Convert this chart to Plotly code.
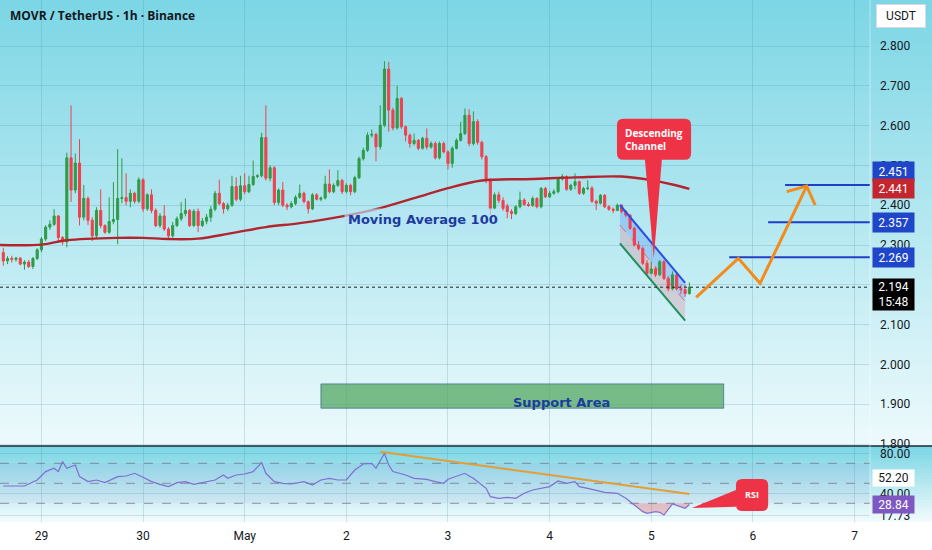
import plotly.graph_objects as go
from plotly.subplots import make_subplots

# ---------------- data ----------------
day_ticks = [9, 33, 57, 81, 105, 129, 153, 177, 201]
day_labels = ["29", "30", "May", "2", "3", "4", "5", "6", "7"]

opens = [2.281, 2.260, 2.266, 2.264, 2.267, 2.252, 2.257, 2.246, 2.266, 2.288,
         2.315, 2.345, 2.352, 2.373, 2.319, 2.308, 2.519, 2.438, 2.506, 2.370,
         2.417, 2.362, 2.323, 2.387, 2.349, 2.332, 2.359, 2.364, 2.417, 2.419,
         2.410, 2.430, 2.410, 2.464, 2.391, 2.426, 2.387, 2.349, 2.373, 2.340,
         2.323, 2.349, 2.366, 2.379, 2.387, 2.349, 2.385, 2.349, 2.360, 2.370,
         2.390, 2.430, 2.404, 2.391, 2.400, 2.447, 2.415, 2.449, 2.434, 2.452,
         2.472, 2.474, 2.570, 2.468, 2.494, 2.407, 2.438, 2.400, 2.396, 2.404,
         2.420, 2.430, 2.409, 2.391, 2.426, 2.415, 2.418, 2.453, 2.434, 2.450,
         2.462, 2.434, 2.450, 2.434, 2.469, 2.517, 2.538, 2.576, 2.578, 2.547,
         2.601, 2.742, 2.639, 2.594, 2.668, 2.597, 2.576, 2.555, 2.563, 2.543,
         2.568, 2.546, 2.555, 2.519, 2.555, 2.534, 2.505, 2.543, 2.563, 2.580,
         2.626, 2.555, 2.610, 2.558, 2.522, 2.463, 2.392, 2.426, 2.412, 2.398,
         2.384, 2.379, 2.396, 2.413, 2.402, 2.399, 2.417, 2.396, 2.442, 2.421,
         2.430, 2.434, 2.466, 2.472, 2.440, 2.450, 2.459, 2.430, 2.442, 2.443,
         2.410, 2.405, 2.425, 2.396, 2.390, 2.387, 2.400, 2.384, 2.375, 2.342,
         2.300, 2.291, 2.254, 2.229, 2.240, 2.225, 2.258, 2.216, 2.190, 2.225,
         2.190, 2.188, 2.178]
highs = [2.293, 2.272, 2.273, 2.270, 2.270, 2.262, 2.262, 2.270, 2.292, 2.320,
         2.350, 2.362, 2.390, 2.375, 2.322, 2.532, 2.651, 2.530, 2.566, 2.451,
         2.422, 2.370, 2.395, 2.440, 2.352, 2.420, 2.458, 2.541, 2.518, 2.480,
         2.440, 2.434, 2.470, 2.468, 2.430, 2.440, 2.392, 2.380, 2.400, 2.345,
         2.358, 2.372, 2.408, 2.417, 2.390, 2.390, 2.392, 2.368, 2.378, 2.398,
         2.436, 2.464, 2.408, 2.406, 2.474, 2.470, 2.474, 2.480, 2.474, 2.512,
         2.478, 2.582, 2.651, 2.500, 2.498, 2.442, 2.458, 2.405, 2.410, 2.425,
         2.452, 2.434, 2.412, 2.430, 2.430, 2.422, 2.474, 2.490, 2.455, 2.488,
         2.466, 2.455, 2.454, 2.474, 2.522, 2.545, 2.583, 2.590, 2.582, 2.651,
         2.762, 2.760, 2.645, 2.700, 2.672, 2.600, 2.580, 2.580, 2.566, 2.572,
         2.593, 2.560, 2.560, 2.560, 2.560, 2.538, 2.548, 2.568, 2.610, 2.643,
         2.641, 2.636, 2.616, 2.562, 2.526, 2.468, 2.432, 2.434, 2.420, 2.404,
         2.390, 2.400, 2.434, 2.418, 2.408, 2.422, 2.420, 2.446, 2.446, 2.436,
         2.440, 2.470, 2.478, 2.475, 2.454, 2.480, 2.462, 2.446, 2.463, 2.448,
         2.414, 2.428, 2.428, 2.400, 2.394, 2.404, 2.402, 2.388, 2.378, 2.346,
         2.310, 2.296, 2.262, 2.258, 2.245, 2.262, 2.262, 2.222, 2.234, 2.230,
         2.200, 2.200, 2.206]
lows = [2.248, 2.252, 2.256, 2.258, 2.249, 2.238, 2.242, 2.240, 2.262, 2.282,
        2.310, 2.338, 2.348, 2.306, 2.300, 2.294, 2.408, 2.430, 2.349, 2.362,
        2.350, 2.310, 2.318, 2.342, 2.328, 2.328, 2.352, 2.302, 2.405, 2.400,
        2.395, 2.404, 2.405, 2.383, 2.386, 2.380, 2.345, 2.343, 2.335, 2.318,
        2.318, 2.345, 2.360, 2.372, 2.345, 2.345, 2.332, 2.345, 2.352, 2.358,
        2.385, 2.400, 2.379, 2.386, 2.396, 2.410, 2.410, 2.428, 2.430, 2.448,
        2.468, 2.470, 2.462, 2.460, 2.400, 2.400, 2.395, 2.388, 2.392, 2.400,
        2.416, 2.405, 2.379, 2.388, 2.412, 2.410, 2.414, 2.430, 2.430, 2.446,
        2.428, 2.430, 2.425, 2.430, 2.466, 2.512, 2.534, 2.570, 2.510, 2.540,
        2.596, 2.585, 2.588, 2.590, 2.592, 2.560, 2.545, 2.550, 2.538, 2.540,
        2.540, 2.542, 2.515, 2.515, 2.530, 2.490, 2.494, 2.540, 2.560, 2.576,
        2.548, 2.550, 2.552, 2.515, 2.455, 2.375, 2.388, 2.405, 2.386, 2.367,
        2.365, 2.375, 2.392, 2.398, 2.396, 2.396, 2.392, 2.392, 2.418, 2.418,
        2.426, 2.430, 2.462, 2.436, 2.436, 2.440, 2.426, 2.426, 2.438, 2.406,
        2.388, 2.402, 2.393, 2.386, 2.380, 2.385, 2.380, 2.370, 2.338, 2.296,
        2.286, 2.250, 2.224, 2.226, 2.220, 2.222, 2.212, 2.184, 2.186, 2.186,
        2.176, 2.170, 2.175]
closes = [2.260, 2.266, 2.264, 2.267, 2.252, 2.257, 2.246, 2.266, 2.288, 2.315,
          2.345, 2.352, 2.373, 2.319, 2.308, 2.519, 2.438, 2.506, 2.370, 2.417,
          2.362, 2.323, 2.387, 2.349, 2.332, 2.359, 2.364, 2.417, 2.419, 2.410,
          2.430, 2.410, 2.464, 2.391, 2.426, 2.387, 2.349, 2.373, 2.340, 2.323,
          2.349, 2.366, 2.379, 2.387, 2.349, 2.385, 2.349, 2.360, 2.370, 2.390,
          2.430, 2.404, 2.391, 2.400, 2.447, 2.415, 2.449, 2.434, 2.452, 2.472,
          2.474, 2.570, 2.468, 2.494, 2.407, 2.438, 2.400, 2.396, 2.404, 2.420,
          2.430, 2.409, 2.391, 2.426, 2.415, 2.418, 2.453, 2.434, 2.450, 2.462,
          2.434, 2.450, 2.434, 2.469, 2.517, 2.538, 2.576, 2.578, 2.547, 2.601,
          2.742, 2.639, 2.594, 2.668, 2.597, 2.576, 2.555, 2.563, 2.543, 2.568,
          2.546, 2.555, 2.519, 2.555, 2.534, 2.505, 2.543, 2.563, 2.580, 2.626,
          2.555, 2.610, 2.558, 2.522, 2.463, 2.392, 2.426, 2.412, 2.392, 2.384,
          2.379, 2.396, 2.413, 2.402, 2.399, 2.417, 2.396, 2.442, 2.421, 2.430,
          2.434, 2.466, 2.472, 2.440, 2.450, 2.459, 2.430, 2.442, 2.443, 2.410,
          2.405, 2.425, 2.396, 2.390, 2.387, 2.400, 2.384, 2.375, 2.342, 2.300,
          2.291, 2.254, 2.229, 2.240, 2.225, 2.258, 2.216, 2.190, 2.225, 2.190,
          2.188, 2.178, 2.194]

ma_idx = [-1, 9, 15, 27, 33, 39, 46, 54, 62, 70, 80, 88, 98, 105, 113, 125, 135, 146, 153, 158, 162]
ma_val = [2.300, 2.301, 2.312, 2.318, 2.318, 2.315, 2.316, 2.330, 2.345, 2.355, 2.372,
          2.390, 2.421, 2.443, 2.462, 2.466, 2.470, 2.472, 2.463, 2.452, 2.441]

rsi_idx = [0, 5, 8, 10, 12, 13, 14, 15, 17, 18, 20, 22, 24, 27, 29, 31, 33, 35, 37, 39,
           41, 43, 45, 48, 50, 52, 53, 55, 57, 59, 61, 62, 64, 66, 68, 71, 73, 75, 77, 79,
           81, 83, 85, 87, 88, 90, 91, 92, 95, 97, 100, 102, 104, 105, 107, 109, 110, 111, 114, 115,
           117, 119, 121, 123, 125, 127, 129, 131, 133, 135, 136, 138, 140, 142, 145, 147, 149, 151, 152, 154,
           155, 156, 158, 160, 161, 162]
rsi_val = [47.3, 47.3, 53.3, 61.7, 65.0, 61.7, 71.7, 65.0, 68.3, 56.7, 51.7, 53.3, 50.7, 56.7, 57.3, 60.0, 56.0, 51.7, 49.0, 46.7,
           50.7, 51.7, 49.0, 51.7, 53.3, 58.3, 55.0, 58.3, 59.3, 61.7, 70.7, 60.0, 51.7, 50.0, 49.3, 51.7, 48.3, 53.3, 55.0, 53.3,
           53.3, 63.3, 69.3, 70.0, 65.0, 80.0, 68.3, 61.7, 58.3, 55.0, 54.0, 51.7, 50.0, 54.0, 56.7, 60.0, 57.3, 55.0, 45.0, 36.7,
           35.0, 36.0, 35.0, 40.0, 43.3, 45.0, 46.7, 52.3, 50.0, 51.7, 46.7, 45.0, 43.3, 41.0, 40.0, 35.0, 28.3, 21.7, 20.0, 21.7,
           21.0, 18.3, 29.3, 26.7, 25.0, 28.84]

price_ticks = [1.8, 1.9, 2.0, 2.1, 2.2, 2.3, 2.4, 2.5, 2.6, 2.7, 2.8]
rsi_ticks = [80, 40, 17.73]

# drawings (index / price units)
support_x = [75.0, 170.1]
support_y = [1.890, 1.951]
ch_x = [145.6, 161.0]
ch_upper = [2.4005, 2.205]
ch_mid = [2.350, 2.158]
ch_lower = [2.304, 2.110]
proj_x = [163.6, 173.55, 178.7, 189.7]
proj_y = [2.1686, 2.2666, 2.2038, 2.4482]
arrow_x = [185.0, 191.7]
arrow_y = [2.434, 2.4005]
level_vals = [2.451, 2.357, 2.269]
level_start = [184.6, 180.6, 171.4]
last_price = 2.194
ma_last = 2.441
rsi_last = 28.84
rsi_ma_last = 52.20
rsi_tl_x = [89, 162]
rsi_tl_y = [81.6, 39.3]
dc_box = [144.9, 162.4, 2.514, 2.617]
dc_ptr = [151.5, 155.5, 153.6, 2.267]
rsi_box = [173.0, 180.6, 22.3, 54.3]
rsi_ptr = [26.6, 43.3, 162.6, 25.3]

# ---------------- style ----------------
W, H = 932, 550
X0, X1 = -0.78, 204.65
PLOT_R = 870
GREEN = "#2f9b48"
RED = "#f0404e"
GRID = "rgba(70,140,160,0.22)"
BLUE = "#1f3fc6"
ORANGE = "#f38b1c"
FONT = "Roboto"

fig = make_subplots(rows=2, cols=1, shared_xaxes=True, vertical_spacing=0)

idx = list(range(len(closes)))
fig.add_trace(go.Candlestick(
    x=idx, open=opens, high=highs, low=lows, close=closes,
    increasing=dict(line=dict(color=GREEN, width=1), fillcolor=GREEN),
    decreasing=dict(line=dict(color=RED, width=1), fillcolor=RED),
    whiskerwidth=0, hoverinfo="skip"), row=1, col=1)
fig.add_trace(go.Scatter(x=ma_idx, y=ma_val, mode="lines",
                         line=dict(color="#b3242f", width=2.4, shape="spline"),
                         hoverinfo="skip"), row=1, col=1)

# RSI oversold fill
fig.add_trace(go.Scatter(x=rsi_idx, y=[30] * len(rsi_idx), mode="lines",
                         line=dict(width=0, color="rgba(0,0,0,0)"), hoverinfo="skip"), row=2, col=1)
fig.add_trace(go.Scatter(x=rsi_idx, y=[min(v, 30) for v in rsi_val], mode="lines",
                         line=dict(width=0, color="rgba(0,0,0,0)"), fill="tonexty",
                         fillcolor="rgba(242,54,69,0.28)", hoverinfo="skip"), row=2, col=1)
fig.add_trace(go.Scatter(x=rsi_idx, y=rsi_val, mode="lines",
                         line=dict(color="#7e6fd0", width=1.2), hoverinfo="skip"), row=2, col=1)

shapes = []


def grad(top_px, bot_px, c0, c1, step=3):
    y = top_px
    while y < bot_px:
        y2 = min(y + step, bot_px)
        t = (y - top_px) / max(bot_px - top_px, 1)
        col = "rgb(%d,%d,%d)" % tuple(round(a + (b - a) * t) for a, b in zip(c0, c1))
        shapes.append(dict(type="rect", xref="paper", yref="paper", x0=0, x1=1,
                           y0=1 - (y2 + 0.6) / H, y1=1 - y / H, fillcolor=col,
                           line=dict(width=0), layer="below"))
        y = y2


grad(0, 446, (124, 214, 229), (238, 250, 252))
grad(446, 522, (124, 214, 229), (246, 252, 253))

# support area
shapes.append(dict(type="rect", xref="x", yref="y", x0=support_x[0], x1=support_x[1],
                   y0=support_y[0], y1=support_y[1], fillcolor="rgba(78,163,92,0.72)",
                   line=dict(color="rgba(60,100,140,0.7)", width=1)))

# channel
shapes.append(dict(type="path", xref="x", yref="y", layer="below",
                   path=f"M {ch_x[0]},{ch_upper[0]} L {ch_x[1]},{ch_upper[1]} L {ch_x[1]},{ch_mid[1]} L {ch_x[0]},{ch_mid[0]} Z",
                   fillcolor="rgba(70,130,255,0.28)", line=dict(width=0)))
shapes.append(dict(type="path", xref="x", yref="y", layer="below",
                   path=f"M {ch_x[0]},{ch_mid[0]} L {ch_x[1]},{ch_mid[1]} L {ch_x[1]},{ch_lower[1]} L {ch_x[0]},{ch_lower[0]} Z",
                   fillcolor="rgba(242,80,100,0.2)", line=dict(width=0)))
shapes.append(dict(type="line", xref="x", yref="y", x0=ch_x[0], x1=ch_x[1], y0=ch_upper[0], y1=ch_upper[1],
                   line=dict(color="#2a4fe0", width=2)))
shapes.append(dict(type="line", xref="x", yref="y", x0=ch_x[0], x1=ch_x[1], y0=ch_mid[0], y1=ch_mid[1],
                   line=dict(color="rgba(240,64,78,0.7)", width=1, dash="dash")))
shapes.append(dict(type="line", xref="x", yref="y", x0=ch_x[0], x1=ch_x[1], y0=ch_lower[0], y1=ch_lower[1],
                   line=dict(color="#1f8f5a", width=2)))

# target levels
for v, s in zip(level_vals, level_start):
    shapes.append(dict(type="line", xref="x", yref="y", x0=s, x1=X1, y0=v, y1=v,
                       line=dict(color=BLUE, width=2)))

# current price dotted
shapes.append(dict(type="line", xref="x", yref="y", x0=X0, x1=X1, y0=last_price, y1=last_price,
                   line=dict(color="#222222", width=1, dash="dot")))

# projection path
pp = "M " + " L ".join(f"{a},{b}" for a, b in zip(proj_x, proj_y))
shapes.append(dict(type="path", xref="x", yref="y", path=pp, line=dict(color=ORANGE, width=3)))
shapes.append(dict(type="path", xref="x", yref="y",
                   path=f"M {arrow_x[0]},{arrow_y[0]} L {proj_x[-1]},{proj_y[-1]} L {arrow_x[1]},{arrow_y[1]}",
                   line=dict(color=ORANGE, width=3)))

# descending channel callout
x0, x1, yb, yt = dc_box
rx, ry = 1.5, 0.016
pb0, pb1, tx, ty = dc_ptr
dpath = (f"M {x0+rx},{yt} L {x1-rx},{yt} Q {x1},{yt} {x1},{yt-ry} L {x1},{yb+ry} "
         f"Q {x1},{yb} {x1-rx},{yb} L {pb1},{yb} L {tx},{ty} L {pb0},{yb} L {x0+rx},{yb} "
         f"Q {x0},{yb} {x0},{yb+ry} L {x0},{yt-ry} Q {x0},{yt} {x0+rx},{yt} Z")
shapes.append(dict(type="path", xref="x", yref="y", path=dpath, fillcolor="#ef3346",
                   line=dict(width=0)))

# RSI panel decorations
shapes.append(dict(type="rect", xref="x2", yref="y2", x0=X0, x1=X1, y0=30, y1=70,
                   fillcolor="rgba(126,87,194,0.07)", line=dict(width=0), layer="below"))
for lv in [70, 50, 30]:
    shapes.append(dict(type="line", xref="x2", yref="y2", x0=X0, x1=X1, y0=lv, y1=lv,
                       line=dict(color="rgba(110,115,130,0.75)", width=1, dash="dash"), layer="below"))
shapes.append(dict(type="line", xref="x2", yref="y2", x0=rsi_tl_x[0], x1=rsi_tl_x[1],
                   y0=rsi_tl_y[0], y1=rsi_tl_y[1], line=dict(color="#e39e35", width=2)))
x0, x1, yb, yt = rsi_box
rx, ry = 1.5, 6
plo, phi, tx, ty = rsi_ptr
rpath = (f"M {x0+rx},{yt} L {x1-rx},{yt} Q {x1},{yt} {x1},{yt-ry} L {x1},{yb+ry} "
         f"Q {x1},{yb} {x1-rx},{yb} L {x0+rx},{yb} Q {x0},{yb} {x0},{yb+ry} "
         f"L {x0},{plo} L {tx},{ty} L {x0},{phi} L {x0},{yt-ry} Q {x0},{yt} {x0+rx},{yt} Z")
shapes.append(dict(type="path", xref="x2", yref="y2", path=rpath, fillcolor="#ef3346",
                   line=dict(width=0)))

# panel separator & axis border
shapes.append(dict(type="line", xref="paper", yref="paper", x0=0, x1=1, y0=1 - 446 / H, y1=1 - 446 / H,
                   line=dict(color="#1c2838", width=1.5)))
shapes.append(dict(type="line", xref="paper", yref="paper", x0=PLOT_R / W, x1=PLOT_R / W,
                   y0=1 - 522 / H, y1=1, line=dict(color="rgba(255,255,255,0.45)", width=1)))

ann = []
ann.append(dict(x=8 / W, y=1 - 16 / H, xref="paper", yref="paper", xanchor="left", yanchor="middle",
                text="MOVR / TetherUS · 1h · Binance", showarrow=False,
                font=dict(family="Open Sans", size=12, color="#131722", weight="bold")))
ann.append(dict(x=901 / W, y=1 - 16 / H, xref="paper", yref="paper", xanchor="center", yanchor="middle",
                text="USDT", showarrow=False, bgcolor="white", bordercolor="#d6dce2", borderwidth=1,
                width=44, height=18, borderpad=2, font=dict(family=FONT, size=12, color="#131722")))
ann.append(dict(x=99.0, y=2.365, xref="x", yref="y", text="Moving Average 100", showarrow=False,
                bgcolor="rgba(185,228,246,0.65)", borderpad=3,
                font=dict(family="DejaVu Sans", size=13, color="#1b3c9e", weight="bold")))
ann.append(dict(x=131.7, y=1.9055, xref="x", yref="y", text="Support Area", showarrow=False,
                font=dict(family="DejaVu Sans", size=13, color="#1b3c9e", weight="bold")))
ann.append(dict(x=153.7, y=2.5663, xref="x", yref="y", text="Descending<br>Channel", showarrow=False,
                align="left", font=dict(family="Open Sans", size=10, color="white", weight="bold")))
ann.append(dict(x=176.8, y=39.3, xref="x2", yref="y2", text="RSI", showarrow=False,
                font=dict(family="Open Sans", size=9, color="white", weight="bold")))


def axbox(text, yval, yref, bg, fg, yshift=0, height=15):
    ann.append(dict(x=872 / W, xref="paper", xanchor="left", y=yval, yref=yref, yanchor="middle",
                    text=text, showarrow=False, bgcolor=bg, width=37, height=height, borderpad=2,
                    yshift=yshift, font=dict(family=FONT, size=12, color=fg)))


axbox("2.451", level_vals[0], "y", "#1f45c8", "white", yshift=13.5)
axbox(f"{ma_last:.3f}", ma_last, "y", "#c4252f", "white")
axbox("2.357", level_vals[1], "y", "#1f45c8", "white")
axbox("2.269", level_vals[2], "y", "#1f45c8", "white")
axbox(f"{last_price:.3f}<br>15:48", last_price, "y", "#000000", "white", yshift=-7, height=27)
axbox(f"{rsi_ma_last:.2f}", rsi_ma_last, "y2", "white", "#131722", yshift=3, height=12)
axbox(f"{rsi_last:.2f}", rsi_last, "y2", "#7e57c2", "white", height=13)

fig.update_layout(
    width=W, height=H, margin=dict(l=0, r=0, t=0, b=0, autoexpand=False),
    paper_bgcolor="white", plot_bgcolor="rgba(0,0,0,0)",
    showlegend=False, hovermode=False, shapes=shapes, annotations=ann,
    xaxis=dict(range=[X0, X1], domain=[0, PLOT_R / W], tickvals=day_ticks, showticklabels=False,
               showgrid=True, gridcolor=GRID, zeroline=False, showline=False, ticks="",
               automargin=False, rangeslider=dict(visible=False)),
    xaxis2=dict(range=[X0, X1], domain=[0, PLOT_R / W], tickvals=day_ticks, ticktext=day_labels,
                showgrid=True, gridcolor=GRID, zeroline=False, showline=False, ticks="",
                automargin=False, ticklabelstandoff=5,
                tickfont=dict(family=FONT, size=12, color="#131722"),
                rangeslider=dict(visible=False)),
    yaxis=dict(domain=[1 - 446 / H, 1], range=[1.795, 2.9156], side="right",
               tickvals=price_ticks, ticktext=[f"{v:.3f}" for v in price_ticks], automargin=False,
               showgrid=True, gridcolor=GRID, zeroline=False, ticks="", ticklabelstandoff=9,
               tickfont=dict(family=FONT, size=12, color="#131722")),
    yaxis2=dict(domain=[1 - 522 / H, 1 - 447 / H], range=[11.3, 86.3], side="right",
                tickvals=rsi_ticks, ticktext=[f"{v:.2f}" for v in rsi_ticks], automargin=False,
                showgrid=True, gridcolor=GRID, zeroline=False, ticks="", ticklabelstandoff=9,
                tickfont=dict(family=FONT, size=12, color="#131722")),
)

css_fix = "document.body.style.margin='0';document.body.style.overflow='hidden';"
fig.write_html("out.html", config={"displayModeBar": False}, post_script=css_fix)
